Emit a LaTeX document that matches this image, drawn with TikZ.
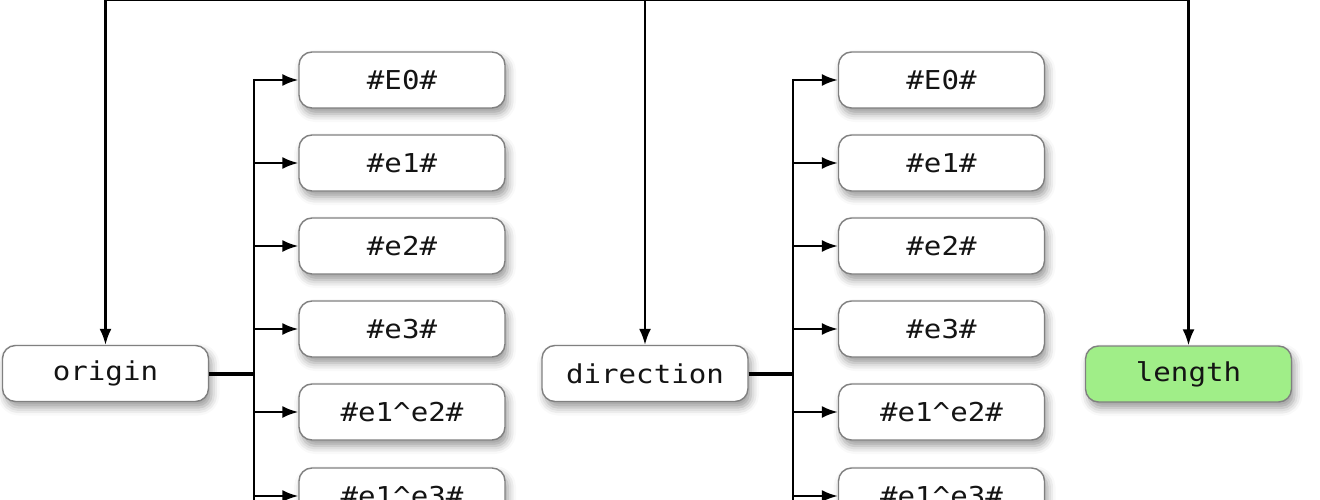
\documentclass[tikz,border=0pt]{standalone}
\usepackage{fontspec}
\newfontfamily\monof[FakeStretch=1.12]{DejaVu Sans Mono}
\usetikzlibrary{arrows.meta,shadows.blur}
\definecolor{lengthgreen}{HTML}{A0EE88}
\definecolor{boxborder}{HTML}{808080}
\definecolor{txt}{HTML}{141414}
\tikzset{
  box/.style={draw=boxborder, line width=1.4pt, fill=white, rounded corners=13pt,
    minimum width=206pt, minimum height=56pt, inner sep=0pt, text=txt,
    font=\monof\fontsize{26}{26}\selectfont,
    blur shadow={shadow xshift=3pt, shadow yshift=-6pt, shadow blur radius=8pt, shadow opacity=40}},
  conn/.style={line width=2.2pt, -{Latex[length=16pt,width=12pt]}},
  busline/.style={line width=2.6pt},
  feed/.style={line width=4pt},
  topline/.style={line width=2.4pt},
}
\begin{document}
\begin{tikzpicture}[x=1pt,y=-1pt]
\clip (0,0) rectangle (1320,500);
% main nodes
\node[box] (origin) at (105.5,373.5) {origin};
\node[box] (direction) at (645,373.5) {direction};
\node[box, fill=lengthgreen] (length) at (1188.5,374) {length};
% left children
\node[box] (LE0) at (402,80) {\#E0\#};
\node[box] (Le1) at (402,163) {\#e1\#};
\node[box] (Le2) at (402,246) {\#e2\#};
\node[box] (Le3) at (402,329) {\#e3\#};
\node[box] (Le12) at (402,412) {\#e1\textasciicircum{}e2\#};
\node[box] (Le13) at (402,496) {\#e1\textasciicircum{}e3\#};
% right children
\node[box] (RE0) at (941.5,80) {\#E0\#};
\node[box] (Re1) at (941.5,163) {\#e1\#};
\node[box] (Re2) at (941.5,246) {\#e2\#};
\node[box] (Re3) at (941.5,329) {\#e3\#};
\node[box] (Re12) at (941.5,412) {\#e1\textasciicircum{}e2\#};
\node[box] (Re13) at (941.5,496) {\#e1\textasciicircum{}e3\#};
% top connectors
\coordinate (t1) at (105.5,0);
\coordinate (t2) at (645,0);
\coordinate (t3) at (1188.5,0);
\draw[topline] (t1) -- (t3);
\draw[conn] (t1) -- (origin.north);
\draw[conn] (t2) -- (direction.north);
\draw[conn] (t3) -- (length.north);
% left bus
\coordinate (bLtop) at (254,79);
\coordinate (bLbot) at (254,530);
\draw[busline] (bLtop) -- (bLbot);
\draw[feed] (origin.east) -- (origin.east -| bLtop);
\foreach \n in {LE0,Le1,Le2,Le3,Le12,Le13}
  \draw[conn] (\n.west -| bLtop) -- (\n.west);
% right bus
\coordinate (bRtop) at (793,79);
\coordinate (bRbot) at (793,530);
\draw[busline] (bRtop) -- (bRbot);
\draw[feed] (direction.east) -- (direction.east -| bRtop);
\foreach \n in {RE0,Re1,Re2,Re3,Re12,Re13}
  \draw[conn] (\n.west -| bRtop) -- (\n.west);
\end{tikzpicture}
\end{document}
